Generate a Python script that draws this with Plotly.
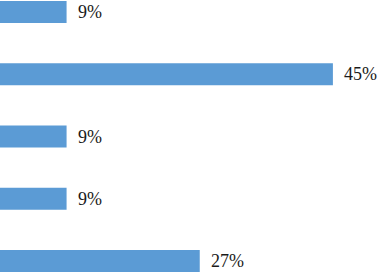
import plotly.graph_objects as go

categories = ["Item 1", "Item 2", "Item 3", "Item 4", "Item 5"]
values = [9, 45, 9, 9, 27]
labels = ["9%", "45%", "9%", "9%", "27%"]

pos = list(range(len(categories)))

fig = go.Figure(go.Bar(
    x=values, y=pos, orientation="h",
    width=0.355,
    marker=dict(color="#5B9BD5", line=dict(width=0)),
    hoverinfo="skip",
))

for p, v, t in zip(pos, values, labels):
    fig.add_annotation(x=v, y=p, text=t, showarrow=False, xanchor="left",
                       yanchor="middle", xshift=9,
                       font=dict(family="Liberation Serif, Times New Roman, serif",
                                 size=18, color="#1a1a1a"))

fig.update_layout(
    width=381, height=274,
    margin=dict(l=0, r=0, t=0, b=0),
    paper_bgcolor="white", plot_bgcolor="white",
    showlegend=False,
    xaxis=dict(range=[0, 51.5], visible=False),
    yaxis=dict(range=[4.209, -0.193], visible=False),
)

fig.write_html("out.html", config={"displayModeBar": False},
               post_script="document.body.style.margin='0';document.body.style.overflow='hidden';")
